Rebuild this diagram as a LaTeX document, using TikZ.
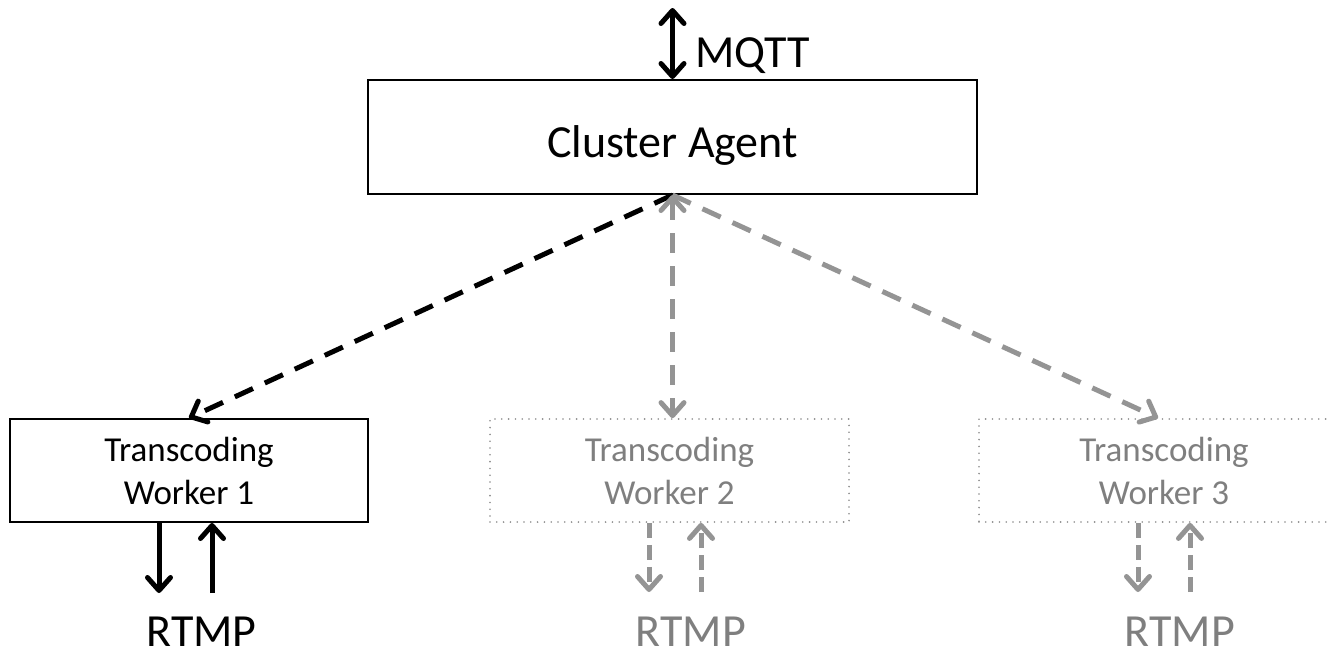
\documentclass[tikz,border=0pt]{standalone}
\usepackage{fontspec}
\setmainfont{Carlito}
\usetikzlibrary{arrows.meta}
\definecolor{lgray}{RGB}{148,148,148}
\definecolor{tgray}{RGB}{127,127,127}
\definecolor{dgray}{RGB}{140,140,140}
\tikzset{
  barb/.tip={Straight Barb[length=13pt,width=23pt,line cap=round,line join=round]},
  solidbox/.style={draw=black,line width=2pt,inner sep=0pt,fill=white},
  dotbox/.style={draw=dgray,line width=1.8pt,dash pattern=on 0pt off 6.8pt,line cap=round,inner sep=0pt,text=tgray},
  bigtext/.style={font=\fontsize{46}{50}\selectfont},
  wtext/.style={font=\fontsize{35}{43}\selectfont,align=center},
  blackarrow/.style={draw=black,line width=5pt,-barb},
  longdash/.style={dash pattern=on 20pt off 13pt},
  shortdash/.style={dash pattern=on 15pt off 7pt},
  grayarrow/.style={draw=lgray,line width=5pt,-barb},
}
\begin{document}
\begin{tikzpicture}[x=1pt,y=-1pt]
\useasboundingbox (0,0) rectangle (1330,651);
\clip (0,0) rectangle (1330,651);
% cluster agent
\node[solidbox,minimum width=609pt,minimum height=114pt,bigtext,text height=40pt,text depth=0pt] (agent) at (672.5,137) {Cluster Agent};
% MQTT
\coordinate (mqtttop) at (672.5,8);
\draw[blackarrow,barb-barb] (agent.north) -- (mqtttop);
\node[bigtext,anchor=base west,inner sep=0pt] (mqtt) at (695,67) {MQTT};
% workers
\node[solidbox,minimum width=358pt,minimum height=103pt,wtext] (w1) at (189,470.5) {Transcoding\\Worker 1};
\node[dotbox,minimum width=359pt,minimum height=103pt,wtext] (w2) at (669.5,470.5) {Transcoding\\Worker 2};
\node[dotbox,minimum width=370pt,minimum height=103pt,wtext] (w3) at (1164,470.5) {Transcoding\\Worker 3};
% agent to workers
\draw[blackarrow,longdash] (agent.south) -- (w1.north);
\draw[grayarrow,longdash,barb-barb] (agent.south) -- (agent.south |- w2.north);
\draw[grayarrow,longdash] (agent.south) -- ([xshift=-6pt]w3.north);
% RTMP labels
\node[bigtext,anchor=base,inner sep=0pt] (r1) at (201.5,646) {RTMP};
\node[bigtext,anchor=base,inner sep=0pt,text=tgray] (r2) at (691,646) {RTMP};
\node[bigtext,anchor=base,inner sep=0pt,text=tgray] (r3) at (1180,646) {RTMP};
% worker 1 io
\coordinate (w1d) at (159,593);
\coordinate (w1u) at (212,593);
\draw[blackarrow] (w1.south -| w1d) -- (w1d);
\draw[blackarrow] (w1u) -- (w1.south -| w1u);
% worker 2 io
\coordinate (w2d) at (649,592);
\coordinate (w2u) at (701,592);
\draw[grayarrow,shortdash] (w2.south -| w2d) -- (w2d);
\draw[grayarrow,shortdash] (w2u) -- (w2.south -| w2u);
% worker 3 io
\coordinate (w3d) at (1138,592);
\coordinate (w3u) at (1190,592);
\draw[grayarrow,shortdash] (w3.south -| w3d) -- (w3d);
\draw[grayarrow,shortdash] (w3u) -- (w3.south -| w3u);
\end{tikzpicture}
\end{document}
